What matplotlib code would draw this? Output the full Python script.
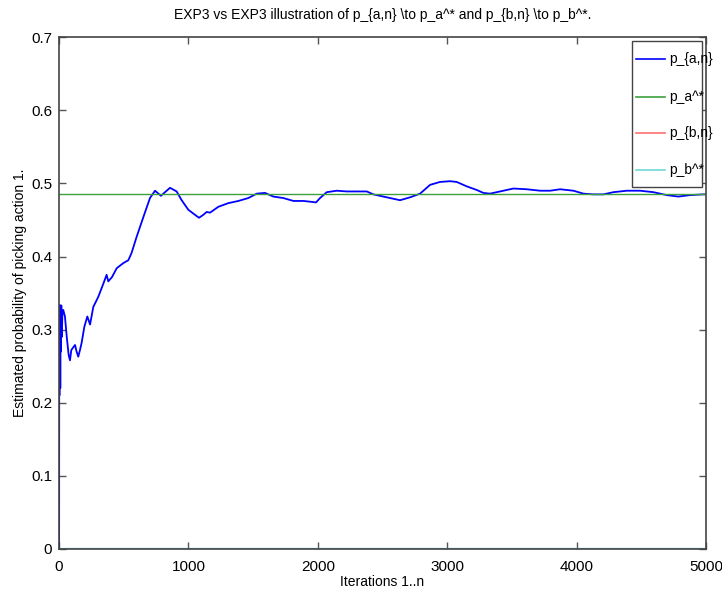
import matplotlib
matplotlib.use('Agg')
import matplotlib.pyplot as plt
from matplotlib.patches import Rectangle
from matplotlib.lines import Line2D

plt.rcParams['font.family'] = ['Liberation Sans', 'DejaVu Sans']

# Estimated p_{a,n} (iteration, value)
iters = [0, 1, 2, 3, 4, 6, 8, 10, 12, 15, 18, 22, 26, 33, 46, 60, 75, 85, 95, 111, 124,
         136, 149, 162, 175, 196, 219, 240, 265, 304, 343, 368, 381, 410, 446, 497, 536,
         561, 600, 652, 703, 742, 788, 819, 858, 909, 948, 999, 1051, 1082, 1115, 1141,
         1167, 1231, 1308, 1386, 1463, 1528, 1592, 1656, 1733, 1811, 1888, 1940, 1986,
         2017, 2069, 2146, 2223, 2301, 2378, 2429, 2506, 2584, 2635, 2713, 2790, 2867,
         2944, 3022, 3073, 3150, 3228, 3279, 3331, 3408, 3511, 3614, 3717, 3795, 3872,
         3975, 4052, 4129, 4206, 4284, 4387, 4490, 4593, 4696, 4786, 4876, 4979, 5000]
p_a_n = [0.0, 0.0, 0.333, 0.21, 0.333, 0.25, 0.333, 0.22, 0.333, 0.27, 0.333, 0.29, 0.32,
         0.327, 0.318, 0.29, 0.265, 0.258, 0.272, 0.276, 0.279, 0.27, 0.263, 0.272, 0.282,
         0.304, 0.318, 0.307, 0.331, 0.345, 0.363, 0.375, 0.366, 0.372, 0.384, 0.391,
         0.395, 0.405, 0.427, 0.454, 0.480, 0.490, 0.483, 0.488, 0.494, 0.489, 0.477,
         0.464, 0.457, 0.453, 0.457, 0.461, 0.460, 0.468, 0.473, 0.476, 0.480, 0.486,
         0.487, 0.482, 0.480, 0.476, 0.476, 0.475, 0.474, 0.480, 0.488, 0.490, 0.489,
         0.489, 0.489, 0.485, 0.482, 0.479, 0.477, 0.481, 0.486, 0.498, 0.502, 0.503,
         0.502, 0.496, 0.491, 0.487, 0.486, 0.489, 0.493, 0.492, 0.490, 0.490, 0.492,
         0.490, 0.486, 0.485, 0.485, 0.488, 0.490, 0.490, 0.488, 0.484, 0.482, 0.484,
         0.485, 0.485]
p_a_star = 0.486
p_b_n = 0.0
p_b_star = 0.0
n_max = 5000

fig = plt.figure(figsize=(7.22, 5.90), dpi=100)
ax = fig.add_axes([0.0817, 0.0695, 0.8963, 0.8675])

ax.plot(iters, p_a_n, color='#0000ff', lw=1.3, label='p_{a,n}')
ax.plot([0, n_max], [p_a_star, p_a_star], color='#3ca03c', lw=1.0, label='p_a^*')
ax.plot([0, n_max], [p_b_n, p_b_n], color='#ff6060', lw=1.0, label='p_{b,n}')
ax.plot([0, n_max], [p_b_star, p_b_star], color='#5fb8b8', lw=1.6, label='p_b^*')

ax.set_xlim(0, n_max)
ax.set_ylim(0, 0.7)
ax.set_xticks([0, 1000, 2000, 3000, 4000, 5000])
ax.set_yticks([0, 0.1, 0.2, 0.3, 0.4, 0.5, 0.6, 0.7])
ax.set_yticklabels(['0', '0.1', '0.2', '0.3', '0.4', '0.5', '0.6', '0.7'])
ax.tick_params(direction='in', top=True, right=True, length=5, width=1,
               color='#555555', labelsize=11)
ax.tick_params(axis='x', pad=8)
ax.tick_params(axis='y', pad=5)
for s in ax.spines.values():
    s.set_color('#444444')
    s.set_linewidth(1.2)

ax.set_title(r'EXP3 vs EXP3 illustration of p_{a,n} \to p_a^* and p_{b,n} \to p_b^*.',
             fontsize=10, pad=13)
ax.set_xlabel('Iterations 1..n', fontsize=10, labelpad=1)
ax.set_ylabel('Estimated probability of picking action 1.', fontsize=10, labelpad=3)

# octave-style legend: narrow box, labels spill over the right edge
leg_colors = ['#0000ff', '#3ca03c', '#ff7070', '#70d8d8']
ax.add_patch(Rectangle((0.886, 0.707), 0.108, 0.285, transform=ax.transAxes,
                       facecolor='white', edgecolor='#444444', lw=1.0, zorder=5))
entry_y = [0.957, 0.883, 0.8125, 0.740]
for line, c, y in zip(ax.get_lines(), leg_colors, entry_y):
    ax.add_line(Line2D([0.892, 0.937], [y, y], transform=ax.transAxes,
                       color=c, lw=1.2, zorder=6))
    ax.text(0.943, y, line.get_label(), transform=ax.transAxes, fontsize=10,
            va='center', ha='left', zorder=6)

fig.savefig('out.png', dpi=100)
